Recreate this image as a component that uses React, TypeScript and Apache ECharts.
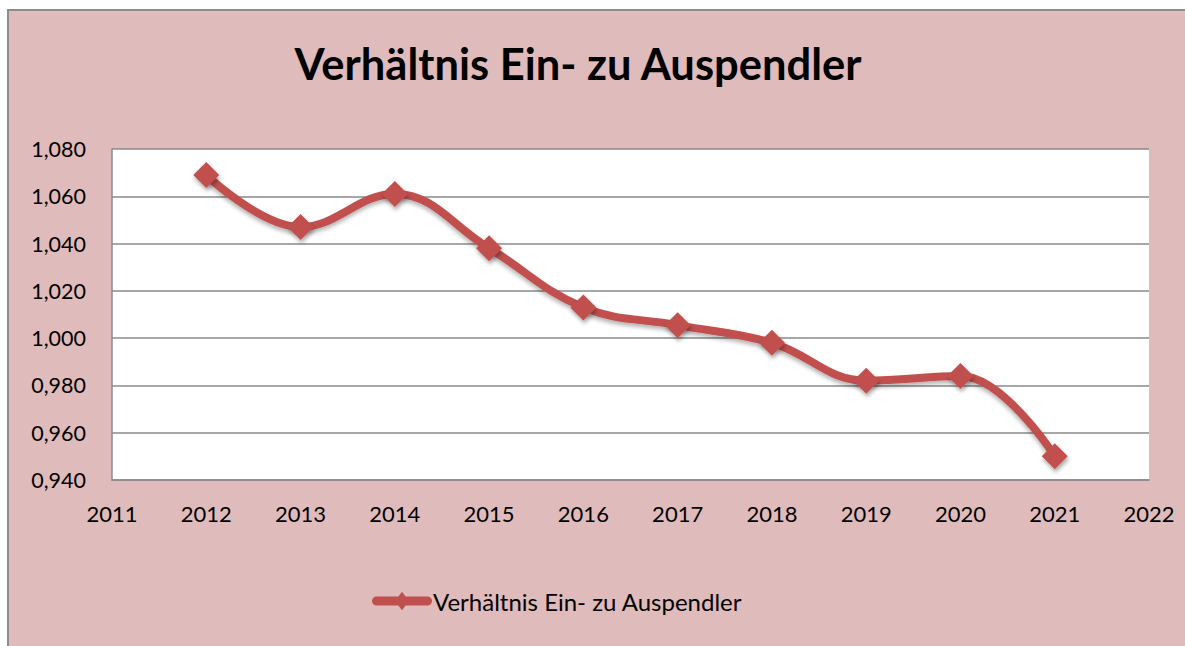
import React, { useEffect, useRef } from "react";
import * as echarts from "echarts";

const years = [2012, 2013, 2014, 2015, 2016, 2017, 2018, 2019, 2020, 2021];
const ratio = [1.069, 1.047, 1.061, 1.038, 1.013, 1.0055, 0.998, 0.982, 0.984, 0.95];
const seriesName = "Verhältnis Ein- zu Auspendler";
const titleText = "Verhältnis Ein- zu Auspendler";

const FONT = "Lato";
const RED = "#C0504D";

export default function App() {
  const ref = useRef<HTMLDivElement>(null);
  useEffect(() => {
    if (!ref.current) return;
    const chart = echarts.init(ref.current, null, { renderer: "svg" });
    chart.setOption({
      animation: false,
      backgroundColor: "#E0BBBB",
      textStyle: { fontFamily: FONT },
      title: {
        text: titleText,
        left: 564,
        top: 25,
        textAlign: "center",
        textStyle: { fontFamily: FONT, fontSize: 43.5, fontWeight: "bold", color: "#000" },
      },
      legend: {
        left: 358,
        top: 573,
        itemWidth: 60,
        itemHeight: 20,
        itemGap: 0,
        symbolKeepAspect: true,
        textStyle: { fontFamily: FONT, fontSize: 24, color: "#000", padding: [0, 0, 0, -4] },
        data: [
          {
            name: seriesName,
            icon:
              "path://M5,5.5 L55,5.5 A4.5,4.5 0 0 1 55,14.5 L5,14.5 A4.5,4.5 0 0 1 5,5.5 Z M30,1 L37,10 L30,19 L23,10 Z",
          },
        ],
      },
      grid: { left: 103, top: 138, width: 1037, height: 331, show: true, backgroundColor: "#fff", borderWidth: 0 },
      xAxis: {
        type: "value",
        min: 2011,
        max: 2022,
        interval: 1,
        axisLine: { show: true, lineStyle: { color: "#8a8a8a", width: 1.5 } },
        axisTick: { show: false },
        splitLine: { show: false },
        axisLabel: {
          formatter: (v: number) => String(v),
          fontFamily: FONT,
          fontSize: 22,
          color: "#000",
          margin: 22,
        },
      },
      yAxis: {
        type: "value",
        min: 0.94,
        max: 1.08,
        interval: 0.02,
        axisLine: { show: true, lineStyle: { color: "#8a8a8a", width: 1.5 } },
        axisTick: { show: false },
        splitLine: { show: true, lineStyle: { color: "#8a8a8a", width: 1.5 } },
        axisLabel: {
          formatter: (v: number) => v.toFixed(3).replace(".", ","),
          fontFamily: FONT,
          fontSize: 21.5,
          color: "#000",
          margin: 26,
        },
      },
      series: [
        {
          name: seriesName,
          type: "line",
          data: years.map((y, i) => [y, ratio[i]]),
          smooth: 0.4,
          symbol: "diamond",
          symbolSize: 26,
          lineStyle: {
            color: RED,
            width: 8,
            shadowColor: "rgba(0,0,0,0.3)",
            shadowBlur: 4,
            shadowOffsetY: 3,
          },
          itemStyle: {
            color: RED,
            shadowColor: "rgba(0,0,0,0.35)",
            shadowBlur: 4,
            shadowOffsetX: 1,
            shadowOffsetY: 3,
          },
        },
      ],
    });
    return () => chart.dispose();
  }, []);
  return (
    <div
      style={{
        position: "absolute",
        left: 7,
        top: 9,
        borderLeft: "2px solid #8c8c8c",
        borderTop: "2px solid #8c8c8c",
      }}
    >
      <div ref={ref} style={{ width: 1176, height: 637 }} />
    </div>
  );
}
